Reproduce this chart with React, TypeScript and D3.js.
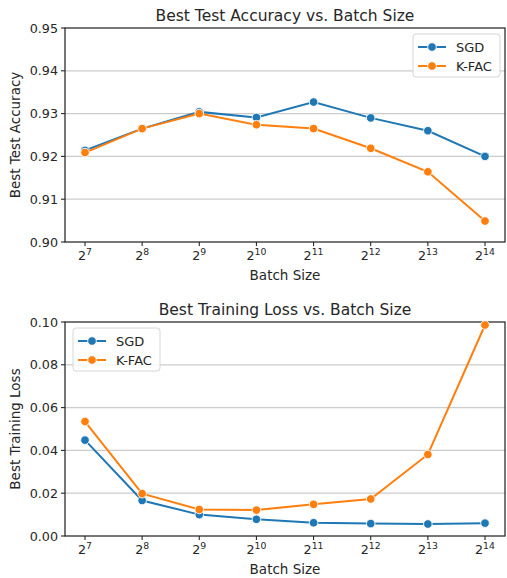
import * as d3 from "d3";

const EXPONENTS = [7, 8, 9, 10, 11, 12, 13, 14];
const SERIES = ["SGD", "K-FAC"];
const COLORS = ["#1f77b4", "#ff7f0e"];

const ACC_SGD = [0.9214, 0.9265, 0.9304, 0.9291, 0.9327, 0.929, 0.926, 0.92];
const ACC_KFAC = [0.9209, 0.9265, 0.93, 0.9274, 0.9265, 0.9219, 0.9164, 0.9049];
const ACC_TICKS = [0.9, 0.91, 0.92, 0.93, 0.94, 0.95];

const LOSS_SGD = [0.0448, 0.0166, 0.01, 0.0078, 0.0062, 0.0058, 0.0056, 0.006];
const LOSS_KFAC = [0.0535, 0.0198, 0.0124, 0.0121, 0.0148, 0.0173, 0.0381, 0.0986];
const LOSS_TICKS = [0, 0.02, 0.04, 0.06, 0.08, 0.1];

const FONT = "DejaVu Sans, sans-serif";
const INK = "#262626";

type PanelProps = {
  top: number;
  title: string;
  ylabel: string;
  values: number[][];
  ticks: number[];
  legendX: number;
};

function Panel({ top, title, ylabel, values, ticks, legendX }: PanelProps) {
  const left = 65;
  const right = 505;
  const h = 214;
  const bottom = top + h;

  const x = d3.scaleLinear().domain([6.65, 14.35]).range([left, right]);
  const y = d3
    .scaleLinear()
    .domain([ticks[0], ticks[ticks.length - 1]])
    .range([bottom, top]);
  const line = d3
    .line<number>()
    .x((_, i) => x(EXPONENTS[i]))
    .y((v) => y(v));

  return (
    <g fontFamily={FONT}>
      <text x={(left + right) / 2} y={top - 7} textAnchor="middle" fontSize={15.5} fill={INK}>
        {title}
      </text>
      {ticks.map((t) => (
        <g key={t}>
          {t !== ticks[0] && t !== ticks[ticks.length - 1] && (
            <line x1={left} x2={right} y1={y(t)} y2={y(t)} stroke="#cccccc" strokeWidth={1.2} />
          )}
          <line x1={left - 4} x2={left} y1={y(t)} y2={y(t)} stroke={INK} strokeWidth={1.1} />
          <text x={left - 7} y={y(t) + 4.5} textAnchor="end" fontSize={12.7} fill={INK}>
            {t.toFixed(2)}
          </text>
        </g>
      ))}
      {EXPONENTS.map((e) => (
        <g key={e}>
          <line x1={x(e)} x2={x(e)} y1={bottom} y2={bottom + 4} stroke={INK} strokeWidth={1.1} />
          <text x={x(e)} y={bottom + 18} textAnchor="middle" fontSize={12.7} fill={INK}>
            <tspan>2</tspan>
            <tspan dy={-5} fontSize={9.3}>{e}</tspan>
          </text>
        </g>
      ))}
      <text x={(left + right) / 2} y={bottom + 38} textAnchor="middle" fontSize={13.5} fill={INK}>
        Batch Size
      </text>
      <text
        transform={`translate(20,${(top + bottom) / 2}) rotate(-90)`}
        textAnchor="middle"
        fontSize={13.5}
        fill={INK}
      >
        {ylabel}
      </text>
      <rect x={left} y={top} width={right - left} height={h} fill="none" stroke={INK} strokeWidth={1.25} />
      {values.map((vals, si) => (
        <g key={si}>
          <path d={line(vals) ?? ""} fill="none" stroke={COLORS[si]} strokeWidth={2} />
          {vals.map((v, i) => (
            <circle key={i} cx={x(EXPONENTS[i])} cy={y(v)} r={4.3} fill={COLORS[si]} stroke="#ffffff" strokeWidth={0.9} />
          ))}
        </g>
      ))}
      <g transform={`translate(${legendX},${top + 6})`}>
        <rect x={0} y={0} width={87} height={43} rx={3} fill="#ffffff" fillOpacity={0.8} stroke="#d6d6d6" strokeWidth={1} />
        {SERIES.map((s, i) => (
          <g key={s} transform={`translate(0,${13 + i * 19})`}>
            <line x1={5} x2={33} y1={0} y2={0} stroke={COLORS[i]} strokeWidth={2} />
            <circle cx={19} cy={0} r={4.3} fill={COLORS[i]} stroke="#ffffff" strokeWidth={0.9} />
            <text x={43} y={4.5} fontSize={13} fill={INK}>
              {s}
            </text>
          </g>
        ))}
      </g>
    </g>
  );
}

export default function App() {
  return (
    <svg width={507} height={578} style={{ display: "block", position: "absolute", left: 0, top: 0, background: "#ffffff" }}>
      <Panel
        top={28}
        title="Best Test Accuracy vs. Batch Size"
        ylabel="Best Test Accuracy"
        values={[ACC_SGD, ACC_KFAC]}
        ticks={ACC_TICKS}
        legendX={413}
      />
      <Panel
        top={322}
        title="Best Training Loss vs. Batch Size"
        ylabel="Best Training Loss"
        values={[LOSS_SGD, LOSS_KFAC]}
        ticks={LOSS_TICKS}
        legendX={73}
      />
    </svg>
  );
}
